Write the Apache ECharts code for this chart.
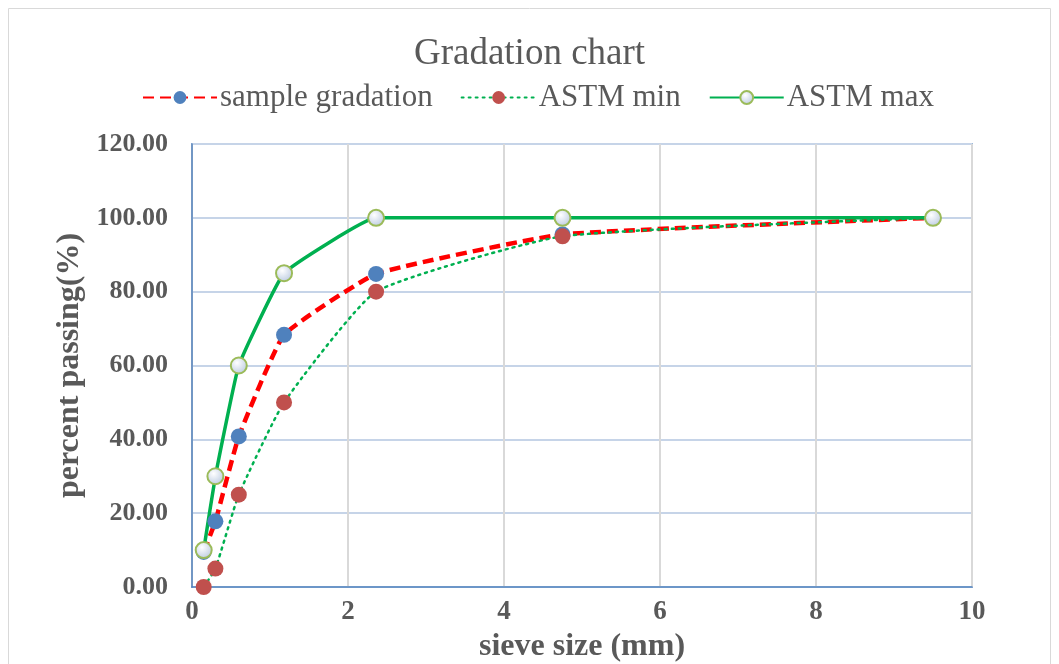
<!DOCTYPE html>
<html><head><meta charset="utf-8">
<script src="https://cdn.jsdelivr.net/npm/echarts@6/dist/echarts.min.js"></script>
<style>html,body{margin:0;padding:0;background:#fff}#c{width:1059px;height:664px}</style>
</head><body><div id="c"></div>
<script>
const sieveSizes = [0.15, 0.3, 0.6, 1.18, 2.36, 4.75, 9.5];
const sampleGradation = [9.5, 17.8, 40.8, 68.3, 84.8, 95.5, 100];
const astmMin = [0, 5, 25, 50, 80, 95, 100];
const astmMax = [10, 30, 60, 85, 100, 100, 100];
const seriesNames = ['sample gradation', 'ASTM min', 'ASTM max'];

const pair = arr => sieveSizes.map((x, i) => [x, arr[i]]);
const chart = echarts.init(document.getElementById('c'));
const serif = '"Liberation Serif", "Times New Roman", serif';
chart.setOption({
  animation: false,
  graphic: [{type: 'rect', shape: {x: 8.5, y: 8.5, width: 1042, height: 700}, style: {fill: 'none', stroke: '#d9d9d9', lineWidth: 1}}],
  title: {text: 'Gradation chart', left: 'center', top: 31, textStyle: {fontFamily: serif, fontSize: 37, fontWeight: 'normal', color: '#595959'}},
  legend: {
    top: 77, left: 137, itemWidth: 74, itemHeight: 16, itemGap: 28,
    textStyle: {fontFamily: serif, fontSize: 31, color: '#595959', padding: [0, 0, 0, -2]},
    data: seriesNames
  },
  grid: {left: 192, right: 87, top: 144, bottom: 77, show: true, borderColor: '#4f81bd', borderWidth: 1.5, outerBoundsMode: 'none', containLabel: false},
  xAxis: {
    type: 'value', min: 0, max: 10, interval: 2,
    name: 'sieve size (mm)', nameLocation: 'middle', nameGap: 44,
    nameTextStyle: {fontFamily: serif, fontSize: 32, fontWeight: 'bold', color: '#595959'},
    axisLine: {lineStyle: {color: '#4f81bd', width: 1.5}},
    axisTick: {show: false},
    axisLabel: {fontFamily: serif, fontSize: 27, fontWeight: 'bold', color: '#595959', margin: 12},
    splitLine: {show: true, lineStyle: {color: '#d9d9d9', width: 2}}
  },
  yAxis: {
    type: 'value', min: 0, max: 120, interval: 20,
    name: 'percent passing(%)', nameLocation: 'middle', nameGap: 102,
    nameTextStyle: {fontFamily: serif, fontSize: 32, fontWeight: 'bold', color: '#595959'},
    axisLine: {show: true, lineStyle: {color: '#4f81bd', width: 1.5}},
    axisTick: {show: false},
    axisLabel: {fontFamily: serif, fontSize: 26, fontWeight: 'bold', color: '#595959', margin: 24, formatter: v => v.toFixed(2)},
    splitLine: {show: true, lineStyle: {color: '#c6d4e8', width: 2}}
  },
  series: [
    {name: seriesNames[0], type: 'line', data: pair(sampleGradation), smooth: 0.12,
     symbol: 'circle', symbolSize: 16,
     itemStyle: {color: '#4f81bd'},
     lineStyle: {color: '#ff0000', width: 4.5, type: [11, 6]}},
    {name: seriesNames[1], type: 'line', data: pair(astmMin), smooth: 0.15,
     symbol: 'circle', symbolSize: 16,
     itemStyle: {color: '#c0504d'},
     lineStyle: {color: '#00b050', width: 2.5, type: [2, 5], cap: 'round'}},
    {name: seriesNames[2], type: 'line', data: pair(astmMax), smooth: 0.1,
     symbol: 'circle', symbolSize: 16,
     itemStyle: {color: {type: 'radial', x: 0.4, y: 0.35, r: 0.7, colorStops: [{offset: 0, color: '#ffffff'}, {offset: 1, color: '#b8c8df'}]}, borderColor: '#9bbb59', borderWidth: 2},
     lineStyle: {color: '#00b050', width: 3.5}}
  ]
});
</script></body></html>
